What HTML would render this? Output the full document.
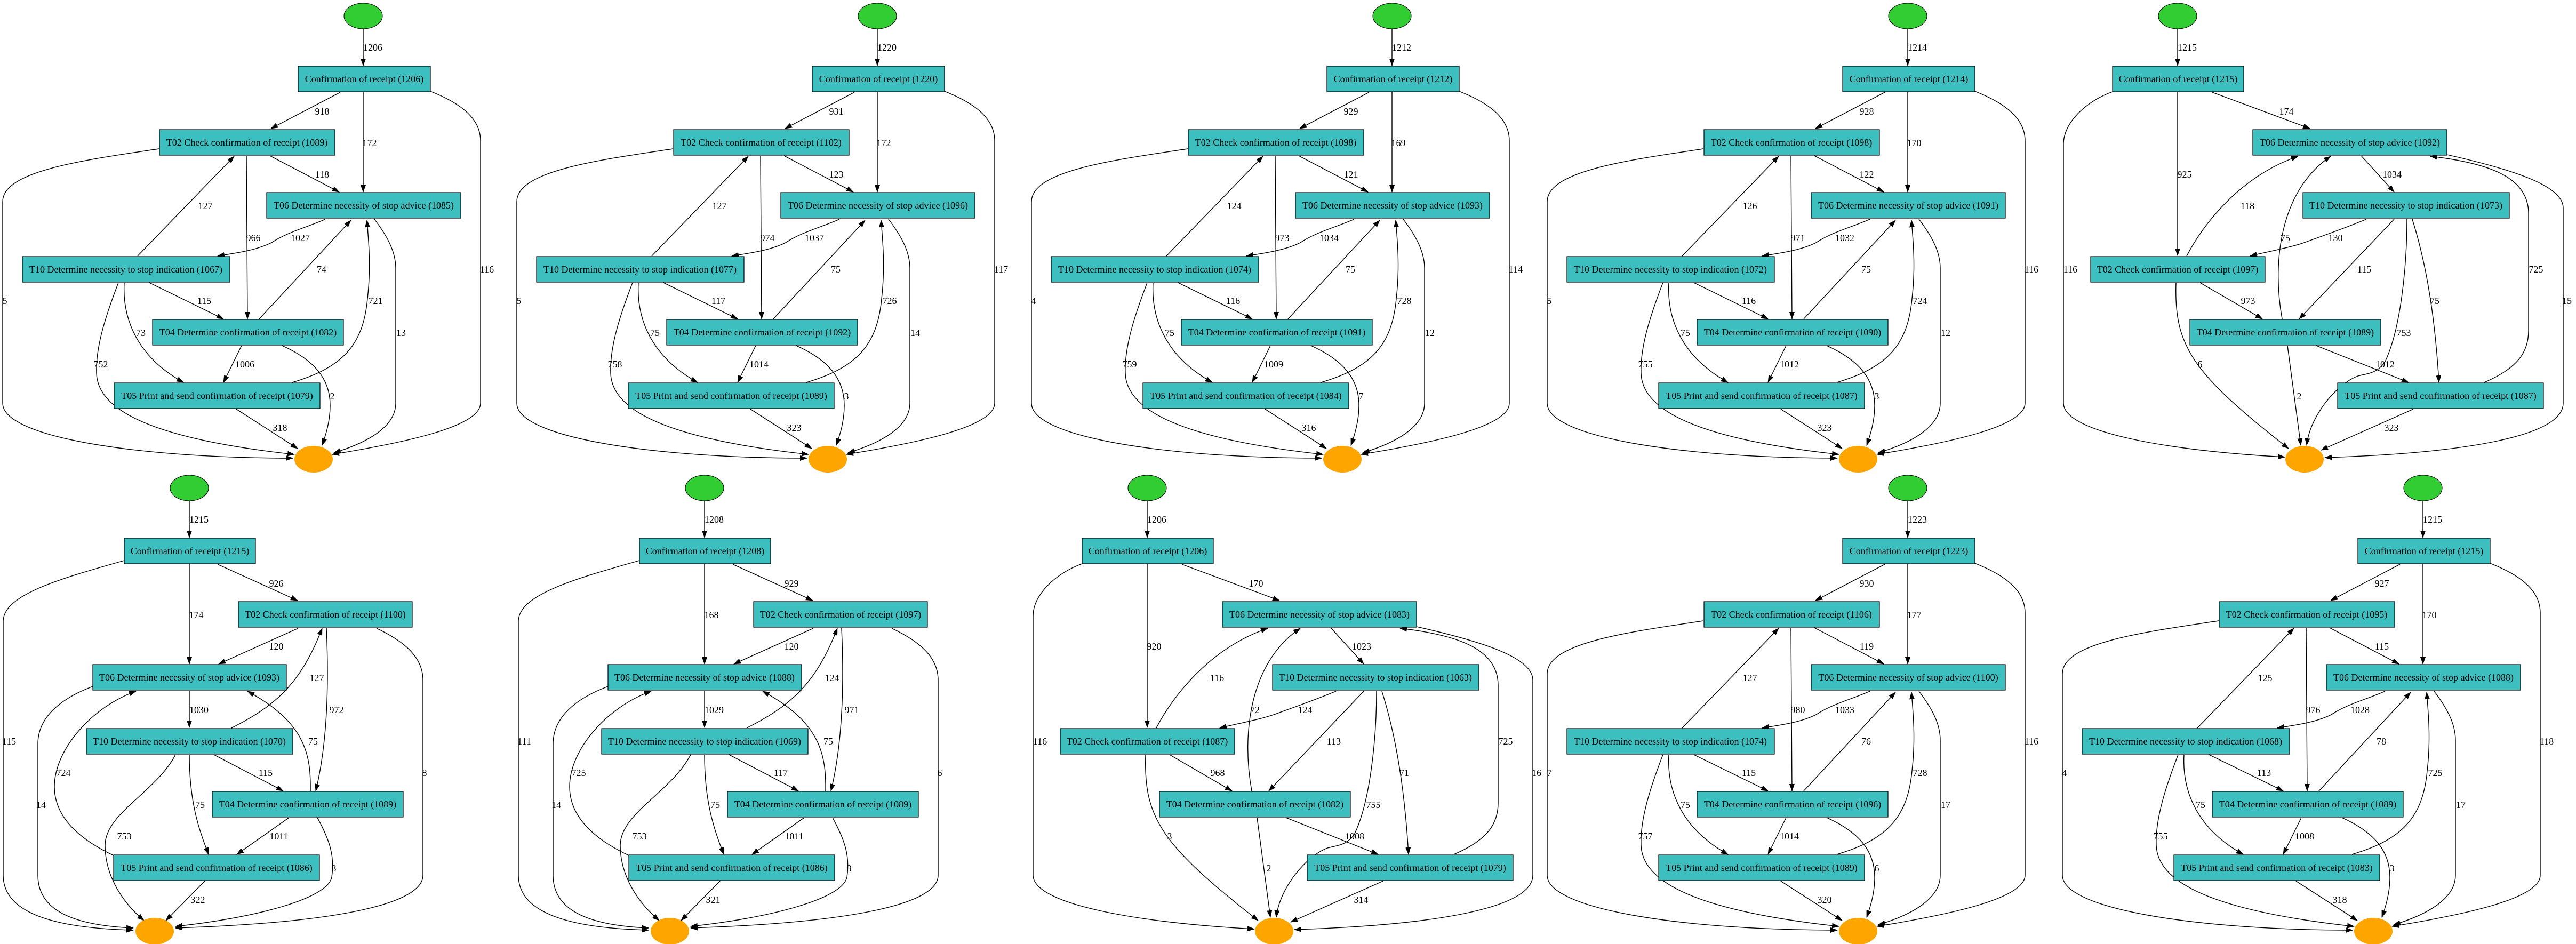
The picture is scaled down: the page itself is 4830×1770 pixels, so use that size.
<!DOCTYPE html>
<html><head><meta charset="utf-8"><style>
html,body{margin:0;padding:0;background:#fff;}
svg{display:block;}
text{font-family:"Liberation Serif",serif;font-size:18px;fill:#000;}
.n{text-anchor:middle;}
.l{text-anchor:middle;}
.e path{fill:none;stroke:#000;stroke-width:1.4;marker-end:url(#ah);}
.r rect{fill:#3ebfbf;stroke:#000;stroke-width:1.2;}
</style></head><body>
<svg width="4830" height="1770" viewBox="0 0 4830 1770" xmlns="http://www.w3.org/2000/svg">
<defs>
<marker id="ah" markerUnits="userSpaceOnUse" markerWidth="14" markerHeight="10" refX="13" refY="5" orient="auto"><path d="M0,0 L14,5 L0,10 z" fill="#000"/></marker>
<g id="A">
<g class="e">
<path d="M122,54 L122,123"/>
<path d="M79,173 L-51,241"/>
<path d="M122,173 L122,360"/>
<path d="M245,170 C310,195 342,225 342,264 L342,756 C342,800 200,830 64,852"/>
<path d="M-53,292 L77,360"/>
<path d="M-97,292 L-95,598"/>
<path d="M-261,279 C-400,300 -554,320 -554,378 L-554,756 C-554,820 -300,859 -10,859"/>
<path d="M51,411 C20,425 -20,435 -50,455 C-80,470 -120,475 -151,480"/>
<path d="M143,411 C165,440 183,470 183,503 L183,756 C183,800 130,830 67,849"/>
<path d="M-301,480 L-120,293"/>
<path d="M-279,530 L-140,598"/>
<path d="M-326,530 C-330,600 -300,670 -215,717"/>
<path d="M-337,530 C-360,590 -380,650 -378,700 C-376,760 -300,820 -7,852"/>
<path d="M-73,598 L99,413"/>
<path d="M-106,648 L-140,717"/>
<path d="M-30,648 C30,675 60,710 60,760 C60,790 52,815 45,835"/>
<path d="M-11,717 C80,690 122,650 130,560 C137,500 132,450 129,413"/>
<path d="M-116,767 L-1,841"/>
</g>
<g class="r">
<rect x="0" y="124" width="248" height="48"/>
<rect x="-260" y="243" width="329" height="48"/>
<rect x="-59" y="361" width="364" height="48"/>
<rect x="-517" y="481" width="389" height="48"/>
<rect x="-273" y="599" width="358" height="48"/>
<rect x="-345" y="718" width="386" height="48"/>
</g>
<ellipse cx="122" cy="30" rx="36" ry="24" fill="#32cd32" stroke="#000" stroke-width="1"/>
<ellipse cx="29" cy="861" rx="36" ry="25" fill="#ffa500"/>
</g>
<g id="B">
<g class="e">
<path d="M122,54 L122,123"/>
<path d="M175,173 L325,241"/>
<path d="M122,173 L122,360"/>
<path d="M0,166 C-120,200 -227,230 -227,280 L-227,756 C-227,820 -150,855 17,859"/>
<path d="M326,293 L177,360"/>
<path d="M379,293 C383,380 383,500 359,598"/>
<path d="M473,293 C530,320 560,350 560,390 L560,756 C560,810 400,845 96,855"/>
<path d="M122,411 L122,479"/>
<path d="M-59,402 C-120,425 -162,460 -162,510 L-162,756 C-162,820 -100,850 17,855"/>
<path d="M201,480 C280,440 330,400 371,293"/>
<path d="M168,530 L298,598"/>
<path d="M96,530 C60,600 -36,640 -36,700 C-36,760 0,810 37,841"/>
<path d="M122,530 C122,620 140,670 158,717"/>
<path d="M349,598 C350,530 340,470 231,411"/>
<path d="M309,648 L211,717"/>
<path d="M362,648 C385,690 395,720 389,760 C380,800 250,835 96,852"/>
<path d="M-20,719 C-60,700 -131,660 -131,590 C-131,520 -60,440 22,411"/>
<path d="M151,767 L78,841"/>
</g>
<g class="r">
<rect x="0" y="124" width="246" height="48"/>
<rect x="214" y="243" width="326" height="48"/>
<rect x="-59" y="361" width="363" height="48"/>
<rect x="-71" y="481" width="387" height="48"/>
<rect x="165" y="599" width="358" height="48"/>
<rect x="-20" y="718" width="386" height="48"/>
</g>
<ellipse cx="122" cy="30" rx="36" ry="24" fill="#32cd32" stroke="#000" stroke-width="1"/>
<ellipse cx="57" cy="861" rx="36" ry="25" fill="#ffa500"/>
</g>
<g id="C">
<g class="e">
<path d="M122,54 L122,123"/>
<path d="M187,173 L370,241"/>
<path d="M122,173 L122,479"/>
<path d="M0,172 C-50,190 -92,230 -92,270 L-92,756 C-92,810 100,845 323,857"/>
<path d="M467,293 L528,360"/>
<path d="M627,290 C760,320 845,350 845,390 L845,756 C845,820 650,850 398,858"/>
<path d="M476,411 C430,430 400,440 359,455 C330,465 290,472 258,480"/>
<path d="M528,411 L350,598"/>
<path d="M552,411 C552,500 540,620 510,680 C495,700 480,700 460,705 C420,720 370,780 364,835"/>
<path d="M562,411 C590,500 605,600 612,717"/>
<path d="M139,480 C170,420 240,330 348,293"/>
<path d="M164,530 L281,598"/>
<path d="M119,530 C115,650 150,700 330,841"/>
<path d="M318,598 C300,500 310,360 409,293"/>
<path d="M382,648 L555,717"/>
<path d="M328,648 L353,835"/>
<path d="M697,717 C760,690 780,660 780,620 L780,400 C780,330 700,305 596,293"/>
<path d="M564,767 L391,844"/>
</g>
<g class="r">
<rect x="0" y="124" width="246" height="48"/>
<rect x="263" y="243" width="364" height="48"/>
<rect x="357" y="361" width="387" height="48"/>
<rect x="-41" y="481" width="327" height="48"/>
<rect x="145" y="599" width="358" height="48"/>
<rect x="422" y="718" width="386" height="48"/>
</g>
<ellipse cx="122" cy="30" rx="36" ry="24" fill="#32cd32" stroke="#000" stroke-width="1"/>
<ellipse cx="360" cy="861" rx="36" ry="25" fill="#ffa500"/>
</g>
</defs>

<!-- Panel 1 (A) -->
<g transform="translate(559,0)">
<use href="#A"/>
<text class="n" x="124" y="154">Confirmation of receipt (1206)</text>
<text class="n" x="-96" y="273">T02 Check confirmation of receipt (1089)</text>
<text class="n" x="123" y="391">T06 Determine necessity of stop advice (1085)</text>
<text class="n" x="-323" y="511">T10 Determine necessity to stop indication (1067)</text>
<text class="n" x="-94" y="629">T04 Determine confirmation of receipt (1082)</text>
<text class="n" x="-152" y="748">T05 Print and send confirmation of receipt (1079)</text>
<text class="l" x="140" y="95">1206</text><text class="l" x="45" y="215">918</text><text class="l" x="134" y="274">172</text><text class="l" x="354" y="511">116</text><text class="l" x="45" y="333">118</text><text class="l" x="-84" y="452">966</text><text class="l" x="-550" y="570">5</text><text class="l" x="4" y="452">1027</text><text class="l" x="193" y="630">13</text><text class="l" x="-174" y="392">127</text><text class="l" x="-176" y="570">115</text><text class="l" x="-295" y="630">73</text><text class="l" x="-370" y="689">752</text><text class="l" x="44" y="511">74</text><text class="l" x="-100" y="689">1006</text><text class="l" x="64" y="749">2</text><text class="l" x="145" y="570">721</text><text class="l" x="-34" y="808">318</text>
</g>

<!-- Panel 2 (A) -->
<g transform="translate(1523,0)">
<use href="#A"/>
<text class="n" x="124" y="154">Confirmation of receipt (1220)</text>
<text class="n" x="-96" y="273">T02 Check confirmation of receipt (1102)</text>
<text class="n" x="123" y="391">T06 Determine necessity of stop advice (1096)</text>
<text class="n" x="-323" y="511">T10 Determine necessity to stop indication (1077)</text>
<text class="n" x="-94" y="629">T04 Determine confirmation of receipt (1092)</text>
<text class="n" x="-152" y="748">T05 Print and send confirmation of receipt (1089)</text>
<text class="l" x="140" y="95">1220</text><text class="l" x="45" y="215">931</text><text class="l" x="134" y="274">172</text><text class="l" x="354" y="511">117</text><text class="l" x="45" y="333">123</text><text class="l" x="-84" y="452">974</text><text class="l" x="-550" y="570">5</text><text class="l" x="4" y="452">1037</text><text class="l" x="193" y="630">14</text><text class="l" x="-174" y="392">127</text><text class="l" x="-176" y="570">117</text><text class="l" x="-295" y="630">75</text><text class="l" x="-370" y="689">758</text><text class="l" x="44" y="511">75</text><text class="l" x="-100" y="689">1014</text><text class="l" x="64" y="749">3</text><text class="l" x="145" y="570">726</text><text class="l" x="-34" y="808">323</text>
</g>

<!-- Panel 3 (A) -->
<g transform="translate(2488,0)">
<use href="#A"/>
<text class="n" x="124" y="154">Confirmation of receipt (1212)</text>
<text class="n" x="-96" y="273">T02 Check confirmation of receipt (1098)</text>
<text class="n" x="123" y="391">T06 Determine necessity of stop advice (1093)</text>
<text class="n" x="-323" y="511">T10 Determine necessity to stop indication (1074)</text>
<text class="n" x="-94" y="629">T04 Determine confirmation of receipt (1091)</text>
<text class="n" x="-152" y="748">T05 Print and send confirmation of receipt (1084)</text>
<text class="l" x="140" y="95">1212</text><text class="l" x="45" y="215">929</text><text class="l" x="134" y="274">169</text><text class="l" x="354" y="511">114</text><text class="l" x="45" y="333">121</text><text class="l" x="-84" y="452">973</text><text class="l" x="-550" y="570">4</text><text class="l" x="4" y="452">1034</text><text class="l" x="193" y="630">12</text><text class="l" x="-174" y="392">124</text><text class="l" x="-176" y="570">116</text><text class="l" x="-295" y="630">75</text><text class="l" x="-370" y="689">759</text><text class="l" x="44" y="511">75</text><text class="l" x="-100" y="689">1009</text><text class="l" x="64" y="749">7</text><text class="l" x="145" y="570">728</text><text class="l" x="-34" y="808">316</text>
</g>

<!-- Panel 4 (A) -->
<g transform="translate(3455,0)">
<use href="#A"/>
<text class="n" x="124" y="154">Confirmation of receipt (1214)</text>
<text class="n" x="-96" y="273">T02 Check confirmation of receipt (1098)</text>
<text class="n" x="123" y="391">T06 Determine necessity of stop advice (1091)</text>
<text class="n" x="-323" y="511">T10 Determine necessity to stop indication (1072)</text>
<text class="n" x="-94" y="629">T04 Determine confirmation of receipt (1090)</text>
<text class="n" x="-152" y="748">T05 Print and send confirmation of receipt (1087)</text>
<text class="l" x="140" y="95">1214</text><text class="l" x="45" y="215">928</text><text class="l" x="134" y="274">170</text><text class="l" x="354" y="511">116</text><text class="l" x="45" y="333">122</text><text class="l" x="-84" y="452">971</text><text class="l" x="-550" y="570">5</text><text class="l" x="4" y="452">1032</text><text class="l" x="193" y="630">12</text><text class="l" x="-174" y="392">126</text><text class="l" x="-176" y="570">116</text><text class="l" x="-295" y="630">75</text><text class="l" x="-370" y="689">755</text><text class="l" x="44" y="511">75</text><text class="l" x="-100" y="689">1012</text><text class="l" x="64" y="749">3</text><text class="l" x="145" y="570">724</text><text class="l" x="-34" y="808">323</text>
</g>

<!-- Panel 5 (C) -->
<g transform="translate(3961,0)">
<use href="#C"/>
<text class="n" x="123" y="154">Confirmation of receipt (1215)</text>
<text class="n" x="445" y="273">T06 Determine necessity of stop advice (1092)</text>
<text class="n" x="550" y="391">T10 Determine necessity to stop indication (1073)</text>
<text class="n" x="122" y="511">T02 Check confirmation of receipt (1097)</text>
<text class="n" x="324" y="629">T04 Determine confirmation of receipt (1089)</text>
<text class="n" x="615" y="748">T05 Print and send confirmation of receipt (1087)</text>
<text class="l" x="140" y="95">1215</text><text class="l" x="326" y="215">174</text><text class="l" x="135" y="333">925</text><text class="l" x="-79" y="511">116</text><text class="l" x="524" y="333">1034</text><text class="l" x="852" y="570">15</text><text class="l" x="418" y="452">130</text><text class="l" x="472" y="511">115</text><text class="l" x="546" y="630">753</text><text class="l" x="604" y="570">75</text><text class="l" x="253" y="392">118</text><text class="l" x="254" y="570">973</text><text class="l" x="164" y="689">6</text><text class="l" x="324" y="452">75</text><text class="l" x="511" y="689">1012</text><text class="l" x="350" y="749">2</text><text class="l" x="794" y="511">725</text><text class="l" x="523" y="808">323</text>
</g>

<!-- Panel 6 (B) -->
<g transform="translate(233,885)">
<use href="#B"/>
<text class="n" x="123" y="154">Confirmation of receipt (1215)</text>
<text class="n" x="377" y="273">T02 Check confirmation of receipt (1100)</text>
<text class="n" x="122" y="391">T06 Determine necessity of stop advice (1093)</text>
<text class="n" x="122" y="511">T10 Determine necessity to stop indication (1070)</text>
<text class="n" x="344" y="629">T04 Determine confirmation of receipt (1089)</text>
<text class="n" x="173" y="748">T05 Print and send confirmation of receipt (1086)</text>
<text class="l" x="140" y="95">1215</text><text class="l" x="285" y="215">926</text><text class="l" x="135" y="274">174</text><text class="l" x="-216" y="511">115</text><text class="l" x="285" y="333">120</text><text class="l" x="398" y="452">972</text><text class="l" x="563" y="570">8</text><text class="l" x="140" y="452">1030</text><text class="l" x="-156" y="630">14</text><text class="l" x="361" y="392">127</text><text class="l" x="265" y="570">115</text><text class="l" x="0" y="689">753</text><text class="l" x="142" y="630">75</text><text class="l" x="354" y="511">75</text><text class="l" x="290" y="689">1011</text><text class="l" x="393" y="749">3</text><text class="l" x="-114" y="570">724</text><text class="l" x="138" y="808">322</text>
</g>

<!-- Panel 7 (B) -->
<g transform="translate(1199,885)">
<use href="#B"/>
<text class="n" x="123" y="154">Confirmation of receipt (1208)</text>
<text class="n" x="377" y="273">T02 Check confirmation of receipt (1097)</text>
<text class="n" x="122" y="391">T06 Determine necessity of stop advice (1088)</text>
<text class="n" x="122" y="511">T10 Determine necessity to stop indication (1069)</text>
<text class="n" x="344" y="629">T04 Determine confirmation of receipt (1089)</text>
<text class="n" x="173" y="748">T05 Print and send confirmation of receipt (1086)</text>
<text class="l" x="140" y="95">1208</text><text class="l" x="285" y="215">929</text><text class="l" x="135" y="274">168</text><text class="l" x="-216" y="511">111</text><text class="l" x="285" y="333">120</text><text class="l" x="398" y="452">971</text><text class="l" x="563" y="570">6</text><text class="l" x="140" y="452">1029</text><text class="l" x="-156" y="630">14</text><text class="l" x="361" y="392">124</text><text class="l" x="265" y="570">117</text><text class="l" x="0" y="689">753</text><text class="l" x="142" y="630">75</text><text class="l" x="354" y="511">75</text><text class="l" x="290" y="689">1011</text><text class="l" x="393" y="749">3</text><text class="l" x="-114" y="570">725</text><text class="l" x="138" y="808">321</text>
</g>

<!-- Panel 8 (C) -->
<g transform="translate(2029,885)">
<use href="#C"/>
<text class="n" x="123" y="154">Confirmation of receipt (1206)</text>
<text class="n" x="445" y="273">T06 Determine necessity of stop advice (1083)</text>
<text class="n" x="550" y="391">T10 Determine necessity to stop indication (1063)</text>
<text class="n" x="122" y="511">T02 Check confirmation of receipt (1087)</text>
<text class="n" x="324" y="629">T04 Determine confirmation of receipt (1082)</text>
<text class="n" x="615" y="748">T05 Print and send confirmation of receipt (1079)</text>
<text class="l" x="140" y="95">1206</text><text class="l" x="326" y="215">170</text><text class="l" x="135" y="333">920</text><text class="l" x="-79" y="511">116</text><text class="l" x="524" y="333">1023</text><text class="l" x="852" y="570">16</text><text class="l" x="418" y="452">124</text><text class="l" x="472" y="511">113</text><text class="l" x="546" y="630">755</text><text class="l" x="604" y="570">71</text><text class="l" x="253" y="392">116</text><text class="l" x="254" y="570">968</text><text class="l" x="164" y="689">3</text><text class="l" x="324" y="452">72</text><text class="l" x="511" y="689">1008</text><text class="l" x="350" y="749">2</text><text class="l" x="794" y="511">725</text><text class="l" x="523" y="808">314</text>
</g>

<!-- Panel 9 (A) -->
<g transform="translate(3455,885)">
<use href="#A"/>
<text class="n" x="124" y="154">Confirmation of receipt (1223)</text>
<text class="n" x="-96" y="273">T02 Check confirmation of receipt (1106)</text>
<text class="n" x="123" y="391">T06 Determine necessity of stop advice (1100)</text>
<text class="n" x="-323" y="511">T10 Determine necessity to stop indication (1074)</text>
<text class="n" x="-94" y="629">T04 Determine confirmation of receipt (1096)</text>
<text class="n" x="-152" y="748">T05 Print and send confirmation of receipt (1089)</text>
<text class="l" x="140" y="95">1223</text><text class="l" x="45" y="215">930</text><text class="l" x="134" y="274">177</text><text class="l" x="354" y="511">116</text><text class="l" x="45" y="333">119</text><text class="l" x="-84" y="452">980</text><text class="l" x="-550" y="570">7</text><text class="l" x="4" y="452">1033</text><text class="l" x="193" y="630">17</text><text class="l" x="-174" y="392">127</text><text class="l" x="-176" y="570">115</text><text class="l" x="-295" y="630">75</text><text class="l" x="-370" y="689">757</text><text class="l" x="44" y="511">76</text><text class="l" x="-100" y="689">1014</text><text class="l" x="64" y="749">6</text><text class="l" x="145" y="570">728</text><text class="l" x="-34" y="808">320</text>
</g>

<!-- Panel 10 (A) -->
<g transform="translate(4421,885)">
<use href="#A"/>
<text class="n" x="124" y="154">Confirmation of receipt (1215)</text>
<text class="n" x="-96" y="273">T02 Check confirmation of receipt (1095)</text>
<text class="n" x="123" y="391">T06 Determine necessity of stop advice (1088)</text>
<text class="n" x="-323" y="511">T10 Determine necessity to stop indication (1068)</text>
<text class="n" x="-94" y="629">T04 Determine confirmation of receipt (1089)</text>
<text class="n" x="-152" y="748">T05 Print and send confirmation of receipt (1083)</text>
<text class="l" x="140" y="95">1215</text><text class="l" x="45" y="215">927</text><text class="l" x="134" y="274">170</text><text class="l" x="354" y="511">118</text><text class="l" x="45" y="333">115</text><text class="l" x="-84" y="452">976</text><text class="l" x="-550" y="570">4</text><text class="l" x="4" y="452">1028</text><text class="l" x="193" y="630">17</text><text class="l" x="-174" y="392">125</text><text class="l" x="-176" y="570">113</text><text class="l" x="-295" y="630">75</text><text class="l" x="-370" y="689">755</text><text class="l" x="44" y="511">78</text><text class="l" x="-100" y="689">1008</text><text class="l" x="64" y="749">3</text><text class="l" x="145" y="570">725</text><text class="l" x="-34" y="808">318</text>
</g>
</svg>
</body></html>
